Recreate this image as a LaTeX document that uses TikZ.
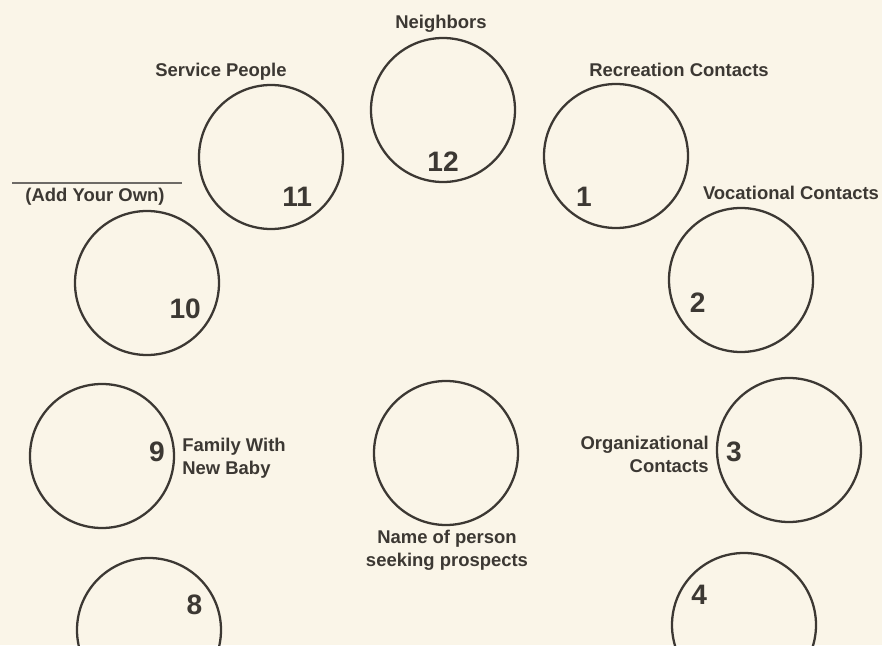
\documentclass[tikz,border=0pt]{standalone}
\usepackage{fontspec}
\setmainfont{Liberation Sans}
\usetikzlibrary{calc,positioning}
\definecolor{paper}{HTML}{FAF5E8}
\definecolor{ink}{HTML}{3C3833}

\begin{document}
\begin{tikzpicture}[
	ring/.style={circle, draw=ink, line width=1.3pt, minimum size=2.88cm, inner sep=0pt},
	num/.style={text=ink, font=\fontsize{16}{16}\selectfont\bfseries, inner sep=0pt},
	lbl/.style={text=ink, font=\fontsize{10.5}{13}\selectfont\bfseries, inner sep=0pt, align=center}]
			\useasboundingbox (0,0) rectangle (17.64,12.9);
			\clip (0,0) rectangle (17.64,12.9);
			\fill[paper] (0,0) rectangle (17.64,12.9);
			\node[ring](c12) at (8.86,10.70){};
			\node[ring](c11) at (5.42,9.76){};
			\node[ring](c1) at (12.32,9.78){};
			\node[ring](c10) at (2.94,7.24){};
			\node[ring](c2) at (14.82,7.30){};
			\node[ring](c9) at (2.04,3.78){};
			\node[ring](cme) at (8.92,3.84){};
			\node[ring](c3) at (15.78,3.90){};
			\node[ring](c8) at (2.98,0.30){};
			\node[ring](c4) at (14.88,0.40){};
			\node[num](n12) at ($(c12)+(-90:1.04)$){12};
			\node[num](n11) at ($(c11)+(-57:0.96)$){11};
			\node[num](n1) at ($(c1)+(-128:1.04)$){1};
			\node[num](n10) at ($(c10)+(-34:0.92)$){10};
			\node[num](n2) at ($(c2)+(-152:0.98)$){2};
			\node[num](n9) at ($(c9)+(4:1.10)$){9};
			\node[num](n3) at ($(c3)+(182:1.10)$){3};
			\node[num](n8) at ($(c8)+(29:1.04)$){8};
			\node[num](n4) at ($(c4)+(146:1.08)$){4};
			\node[lbl](l12) at (8.82,12.42){Neighbors};
			\node[lbl](l11) at (4.42,11.46){Service People};
			\node[lbl](l1) at (13.58,11.50){Recreation Contacts};
			\node[lbl](l2) at (15.82,9.04){Vocational Contacts};
			\node[lbl](l10) at (1.90,8.96){(Add Your Own)};
			\node[lbl, anchor=west, align=left](l9) at (3.64,3.74){Family With\\New Baby};
			\node[lbl, anchor=east, align=right](l3) at (14.18,3.82){Organizational\\Contacts};
			\node[lbl](lme) at (8.94,1.90){Name of person\\seeking prospects};
			\coordinate (b1) at (0.24,9.24);
			\coordinate (b2) at (3.64,9.24);
			\draw[ink!75, line width=1.2pt] (b1) -- (b2);
\end{tikzpicture}
\end{document}
